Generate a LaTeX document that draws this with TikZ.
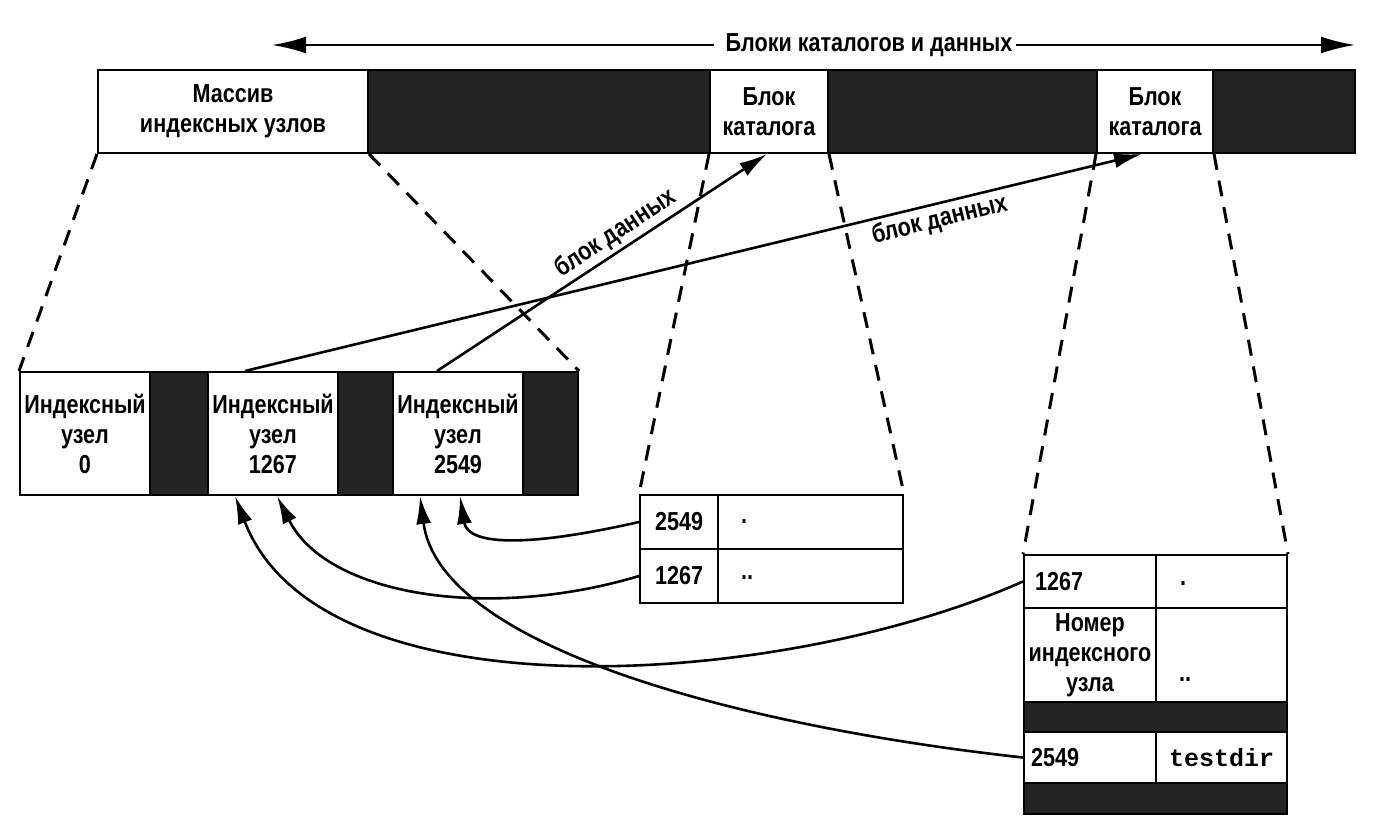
\documentclass[tikz,border=0pt]{standalone}
\usepackage{fontspec}
\setmainfont[FakeStretch=0.83]{Liberation Sans}
\newfontfamily\monofont{Liberation Mono}
\usetikzlibrary{arrows.meta}
\newcommand\lblfont{\fontsize{26}{30}\selectfont\bfseries}
\tikzset{
    darkbar/.style={draw,line width=2pt,fill=black!86,inner sep=0pt},
    cell/.style={draw,line width=2pt,fill=white,inner sep=0pt,align=center,font=\lblfont},
    guide/.style={line width=3pt,dash pattern=on 16pt off 11pt},
    link/.style={line width=2.6pt,-{Latex[length=28pt,width=15pt]}},
    span/.style={line width=2.4pt,-{Latex[length=34pt,width=17pt]}},
    dots/.style={inner sep=0pt,font=\lblfont}
}

\begin{document}
\begin{tikzpicture}[x=1pt,y=-1pt]
\useasboundingbox (0,0) rectangle (1396,834);

% disk
\node[darkbar,minimum width=1257,minimum height=83] (disk) at (726.5,111.5) {};
\node[cell,minimum width=270,minimum height=83] (massiv) at (233,111.5) {Массив\\индексных узлов};
\node[cell,minimum width=118,minimum height=83] (blk1) at (769,111.5) {Блок\\каталога};
\node[cell,minimum width=116,minimum height=83] (blk2) at (1155,111.5) {Блок\\каталога};

\node[font=\lblfont,inner sep=3pt] (spanlbl) at (869,45) {Блоки каталогов и данных};
\coordinate (spanL) at (272,45);
\coordinate (spanR) at (1355,45);
\draw[span] ([xshift=-8pt]spanlbl.west) -- (spanL);
\draw[span] (spanlbl.east) -- (spanR);

% inode array
\node[darkbar,minimum width=558,minimum height=123] (inodes) at (299,433.5) {};
\node[cell,minimum width=130,minimum height=123] (in0) at (85,433.5) {Индексный\\узел\\0};
\node[cell,minimum width=130,minimum height=123] (in1267) at (273,433.5) {Индексный\\узел\\1267};
\node[cell,minimum width=130,minimum height=123] (in2549) at (458,433.5) {Индексный\\узел\\2549};

% first directory block
\node[cell,minimum width=78,minimum height=54] (d1a) at (679,522) {2549};
\node[cell,minimum width=185,minimum height=54] (d1b) at (810.5,522) {};
\node[cell,minimum width=78,minimum height=54] (d1c) at (679,576) {1267};
\node[cell,minimum width=185,minimum height=54] (d1d) at (810.5,576) {};
\node[dots] (dot1b) at (744,522) {.};
\node[dots] (dot1d) at (747,578) {..};

% second directory block
\node[cell,minimum width=132,minimum height=53,text width=110,align=left] (d2a) at (1090,581.5) {1267};
\node[cell,minimum width=131,minimum height=53] (d2b) at (1221.5,581.5) {};
\node[cell,minimum width=132,minimum height=94] (d2c) at (1090,655) {Номер\\индексного\\узла};
\node[cell,minimum width=131,minimum height=94] (d2d) at (1221.5,655) {};
\node[darkbar,minimum width=263,minimum height=30] (d2gap) at (1155.5,717) {};
\node[cell,minimum width=132,minimum height=51,text width=118,align=left] (d2e) at (1090,757.5) {2549};
\node[cell,minimum width=131,minimum height=51,font=\monofont\fontsize{25}{28}\selectfont\bfseries] (d2f) at (1221.5,757.5) {testdir};
\node[darkbar,minimum width=263,minimum height=31] (d2end) at (1155.5,798.5) {};
\node[dots] (dot2b) at (1183,584) {.};
\node[dots] (dot2d) at (1185,680) {..};

% zoom guides
\draw[guide] (massiv.south west) -- (inodes.north west);
\draw[guide] (massiv.south east) -- (inodes.north east);
\draw[guide] (blk1.south west) -- (d1a.north west);
\draw[guide] (blk1.south east) -- (d1b.north east);
\draw[guide] (blk2.south west) -- (d2a.north west);
\draw[guide] (blk2.south east) -- (d2b.north east);

% data block pointers
\draw[link] ([xshift=-21pt]in2549.north) -- node[sloped,above,pos=0.57,font=\lblfont] {блок данных} ([xshift=-2pt]blk1.south);
\draw[link] ([xshift=-28pt]in1267.north) -- node[sloped,below,pos=0.77,font=\lblfont] {блок данных} ([xshift=-13pt]blk2.south);

% directory entries
\draw[link] (d1a.west) .. controls +(-110,25) and +(8,50) .. ([xshift=2pt]in2549.south);
\draw[link] (d1c.west) .. controls +(-150,45) and +(50,100) .. ([xshift=4pt]in1267.south);
\draw[link] (d2a.west) .. controls +(-244,108) and +(85,223) .. ([xshift=-38pt]in1267.south);
\draw[link] (d2e.west) .. controls +(-274,-30) and +(20,153) .. ([xshift=-38pt]in2549.south);

\end{tikzpicture}
\end{document}
